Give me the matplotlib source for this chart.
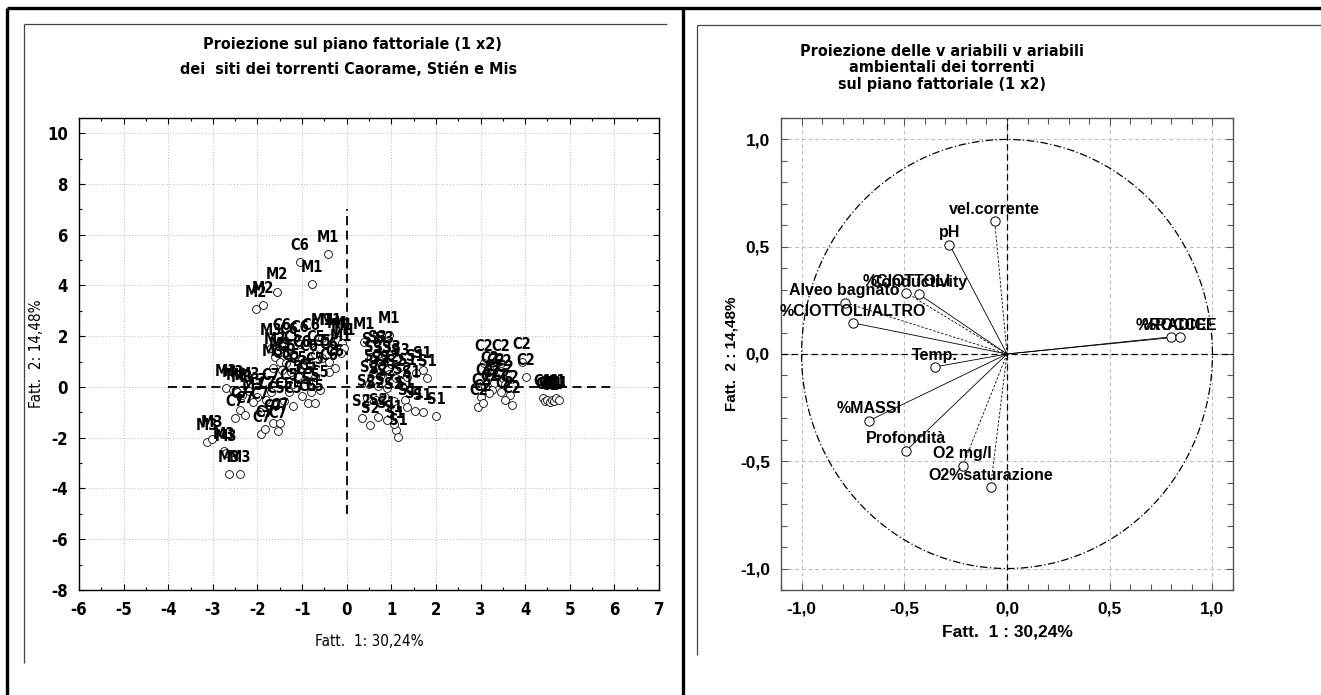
import matplotlib
matplotlib.use("Agg")
import matplotlib.pyplot as plt
from matplotlib.lines import Line2D
from matplotlib.patches import Circle
from matplotlib.ticker import MultipleLocator, FuncFormatter

plt.rcParams["axes.unicode_minus"] = False
COND = dict(fontfamily="DejaVu Sans", fontstretch="condensed", fontweight="bold")
REG = "Liberation Sans"

# ---------------- data: left chart (sites) ----------------
site_labels = (
    ["M1", "M1", "C6", "M2", "M2", "M2"]
    + ["M3", "C6", "C6", "C6", "C6", "M1", "M1", "M1", "M1", "M1",
       "M3", "M3", "C5", "C5", "C6", "C6", "C5", "C5", "C6", "C6",
       "M1", "C6", "C5", "C5", "C5", "C5", "C5", "M3", "C5", "C5"]
    + ["M3", "M3", "M3", "M3", "M3", "C7", "C7", "C7", "C7", "C7",
       "C7", "C7", "C7", "C7", "C7", "C7", "C5", "C5", "C5", "C5",
       "C5", "C5", "C5", "C5", "C5", "C7", "M3"]
    + ["M3", "M3", "M3", "M3", "M3", "M3"]
    + ["M1", "M1"]
    + ["S3", "S3", "S3", "S3", "S3", "S3", "S3", "S2", "S2", "S2",
       "S2", "S1", "S1", "S1", "S1", "S2", "S2", "S2", "S2", "S1",
       "S2", "S2", "S2", "S2", "S1", "S1", "S1", "S1", "S2", "S2",
       "S2", "S1", "S1", "S1", "S1", "S1"]
    + ["C2"] * 19
    + ["C1"] * 8
)
site_f1 = (
    [-0.42, -0.78, -1.04, -1.56, -1.88, -2.04]
    + [-1.70, -1.45, -1.30, -1.05, -0.80, -0.55, -0.35, -0.20, -0.10, -0.05,
       -1.60, -1.50, -1.35, -1.20, -1.00, -0.85, -0.70, -0.55, -0.40, -0.27,
       -0.12, -0.40, -0.72, -0.87, -1.25, -1.45, -1.10, -1.65, -1.20, -0.95]
    + [-2.70, -2.55, -2.45, -2.35, -2.20, -2.40, -2.51, -2.29, -1.95, -1.91,
       -1.83, -1.65, -1.50, -1.54, -2.00, -1.80, -1.60, -1.40, -1.20, -1.00,
       -0.87, -0.72, -0.80, -0.60, -1.30, -1.70, -2.10]
    + [-3.13, -3.03, -2.74, -2.70, -2.64, -2.39]
    + [0.39, 0.95]
    + [0.55, 0.70, 0.85, 0.60, 0.80, 1.00, 1.20, 0.60, 0.75, 0.95,
       1.10, 1.35, 1.55, 1.70, 1.80, 0.50, 0.70, 0.90, 1.25, 1.45,
       0.45, 0.65, 0.85, 1.05, 1.30, 1.52, 1.70, 2.01, 0.34, 0.52,
       0.70, 0.90, 1.10, 1.15, 1.05, 1.35]
    + [3.07, 3.45, 3.92, 4.01, 3.20, 3.35, 3.50, 3.30, 3.55, 3.10,
       3.25, 3.45, 3.65, 3.00, 3.20, 2.95, 3.05, 3.70, 3.55]
    + [4.40, 4.45, 4.50, 4.55, 4.60, 4.65, 4.70, 4.75]
)
site_f2 = (
    [5.23, 4.05, 4.92, 3.76, 3.23, 3.06]
    + [1.55, 1.75, 1.60, 1.70, 1.75, 1.95, 1.95, 1.85, 1.75, 1.55,
       1.20, 1.00, 0.95, 1.30, 1.10, 0.95, 1.30, 1.15, 1.00, 0.76,
       1.33, 0.60, 0.41, 0.20, 0.60, 0.65, 0.45, 0.75, 0.10, 0.05]
    + [-0.05, -0.10, -0.20, -0.30, -0.15, -0.91, -1.24, -1.10, -0.97, -1.85,
       -1.66, -1.43, -1.40, -1.72, -0.40, -0.50, -0.70, -0.55, -0.73, -0.35,
       -0.64, -0.64, -0.20, -0.10, -0.20, -0.20, -0.60]
    + [-2.16, -2.06, -2.51, -2.60, -3.43, -3.43]
    + [1.79, 2.06]
    + [1.20, 1.30, 1.25, 0.90, 0.85, 0.90, 0.80, 0.55, 0.45, 0.50,
       0.35, 0.40, 0.55, 0.65, 0.35, 0.10, 0.05, -0.05, 0.05, -0.10,
       -0.45, -0.50, -0.40, -0.55, -0.50, -0.93, -0.99, -1.14, -1.21, -1.50,
       -1.20, -1.30, -1.70, -1.96, -1.45, -0.80]
    + [0.95, 0.95, 1.00, 0.38, 0.45, 0.40, 0.35, 0.15, 0.10, 0.00,
       -0.10, -0.20, -0.30, -0.40, -0.25, -0.80, -0.65, -0.70, -0.50]
    + [-0.45, -0.55, -0.50, -0.60, -0.50, -0.55, -0.45, -0.50]
)

# ---------------- data: right chart (variables) ----------------
var_names = ["vel.corrente", "pH", "%CIOTTOLI", "Conductivity", "Alveo bagnato",
             "%CIOTTOLI/ALTRO", "Temp.", "%MASSI", "Profondità", "O2 mg/l",
             "O2%saturazione", "%ROCCE", "%RADICE"]
var_f1 = [-0.06, -0.28, -0.49, -0.43, -0.79, -0.75, -0.35, -0.67, -0.49, -0.215, -0.08, 0.80, 0.84]
var_f2 = [0.62, 0.51, 0.285, 0.28, 0.24, 0.145, -0.06, -0.31, -0.45, -0.52, -0.62, 0.08, 0.08]
var_dashed = [True, False, True, False, True, False, False, False, False, True, True, False, False]

left_xticks = list(range(-6, 8))
left_yticks = list(range(-8, 11, 2))
right_ticks = [-1.0, -0.5, 0.0, 0.5, 1.0]

W, H = 1321, 695
fig = plt.figure(figsize=(W / 100, H / 100), dpi=100)
fig.patch.set_facecolor("white")

def fx(px):
    return px / W

def fy(py):
    return 1 - py / H

def fline(x0, y0, x1, y1, lw, color="black"):
    fig.add_artist(Line2D([fx(x0), fx(x1)], [fy(y0), fy(y1)], lw=lw, color=color,
                          transform=fig.transFigure, solid_capstyle="butt"))

fline(7, 8, W, 8, 2.4)
fline(7, 8, 7, H, 2.4)
fline(683, 8, 683, H, 2.4)
fline(24, 24, 667, 24, 0.9, "#444444")
fline(24, 24, 24, 663, 0.9, "#444444")
fline(697, 25, W, 25, 0.9, "#444444")
fline(697, 25, 697, 655, 0.9, "#444444")

# ---------------- left axes ----------------
axL = fig.add_axes([fx(79), fy(590), (659 - 79) / W, (590 - 118) / H])
axL.set_xlim(-6, 7)
axL.set_ylim(-8, 10.6)
axL.set_xticks(left_xticks)
axL.set_yticks(left_yticks)
axL.xaxis.set_minor_locator(MultipleLocator(0.5))
axL.yaxis.set_minor_locator(MultipleLocator(1))
axL.tick_params(which="both", direction="in", top=True, right=True, width=0.8)
axL.tick_params(which="major", length=4, pad=8)
axL.tick_params(which="minor", length=2.5)
for lab in axL.get_xticklabels() + axL.get_yticklabels():
    lab.set(**COND)
    lab.set_fontsize(12)
axL.grid(True, which="major", linestyle=(0, (1, 2)), color="#bbbbbb", lw=0.7)
axL.set_axisbelow(True)
for s in axL.spines.values():
    s.set_linewidth(1.0)
axL.plot([-4, 6], [0, 0], ls=(0, (5, 3)), color="black", lw=1.3)
axL.plot([0, 0], [-5, 7], ls=(0, (5, 3)), color="black", lw=1.3)
axL.scatter(site_f1, site_f2, s=32, facecolors="white", edgecolors="black", linewidths=0.6, zorder=3)
for lab, x, y in zip(site_labels, site_f1, site_f2):
    axL.annotate(lab, (x, y), xytext=(0, 12), textcoords="offset points", ha="center",
                 va="center", fontsize=10.5, zorder=4, **COND)
axL.set_xlabel("Fatt.  1: 30,24%", fontsize=11, fontfamily="DejaVu Sans",
               fontstretch="condensed", labelpad=11)
axL.set_ylabel("Fatt.  2: 14,48%", fontsize=11, fontfamily="DejaVu Sans",
               fontstretch="condensed", labelpad=2)
fig.text(fx(352), fy(45), "Proiezione sul piano fattoriale (1 x2)", ha="center", va="center",
         fontsize=11.5, **COND)
fig.text(fx(348), fy(70), "dei  siti dei torrenti Caorame, Stién e Mis", ha="center", va="center",
         fontsize=11.5, **COND)

# ---------------- right axes ----------------
axR = fig.add_axes([fx(781), fy(590), (1233 - 781) / W, (590 - 118) / H])
axR.set_xlim(-1.1, 1.1)
axR.set_ylim(-1.1, 1.1)
axR.set_xticks(right_ticks)
axR.set_yticks(right_ticks)
axR.xaxis.set_minor_locator(MultipleLocator(0.1))
axR.yaxis.set_minor_locator(MultipleLocator(0.1))
fmt = FuncFormatter(lambda v, p: f"{v:.1f}".replace(".", ",").replace("-0,0", "0,0"))
axR.xaxis.set_major_formatter(fmt)
axR.yaxis.set_major_formatter(fmt)
axR.tick_params(which="both", direction="in", top=True, right=True, width=0.8, color="#555555")
axR.tick_params(which="major", length=5, pad=8)
axR.tick_params(which="minor", length=4)
for lab in axR.get_xticklabels() + axR.get_yticklabels():
    lab.set_fontfamily(REG)
    lab.set_fontweight("bold")
    lab.set_fontsize(12.5)
axR.grid(True, which="major", linestyle=(0, (4, 3)), color="#bbbbbb", lw=0.7)
axR.set_axisbelow(True)
for s in axR.spines.values():
    s.set_linewidth(1.0)
    s.set_color("#555555")
axR.add_patch(Circle((0, 0), 1.0, fill=False, ls=(0, (6, 2, 1, 2)), lw=0.9, color="black"))
axR.axhline(0, ls=(0, (5, 3)), color="black", lw=0.9)
axR.axvline(0, ls=(0, (5, 3)), color="black", lw=0.9)
for x, y, d in zip(var_f1, var_f2, var_dashed):
    axR.plot([0, x], [0, y], color="black", lw=0.6, ls=(0, (3, 2)) if d else "-")
axR.scatter(var_f1, var_f2, s=45, facecolors="white", edgecolors="black", linewidths=0.7, zorder=3)
for lab, x, y in zip(var_names, var_f1, var_f2):
    axR.annotate(lab, (x, y), xytext=(0, 8.5), textcoords="offset points", ha="center",
                 va="center", fontsize=11.5, fontfamily=REG, fontweight="bold", zorder=4)
axR.set_xlabel("Fatt.  1 : 30,24%", fontsize=12.5, fontfamily=REG, fontweight="bold", labelpad=6)
axR.set_ylabel("Fatt.  2 : 14,48%", fontsize=11, fontfamily=REG, fontweight="bold", labelpad=1)
fig.text(fx(942), fy(51), "Proiezione delle v ariabili v ariabili", ha="center", va="center",
         fontsize=11.5, **COND)
fig.text(fx(942), fy(68), "ambientali dei torrenti", ha="center", va="center",
         fontsize=11.5, **COND)
fig.text(fx(942), fy(85), "sul piano fattoriale (1 x2)", ha="center", va="center",
         fontsize=11.5, **COND)

fig.savefig("out.png", dpi=100)
